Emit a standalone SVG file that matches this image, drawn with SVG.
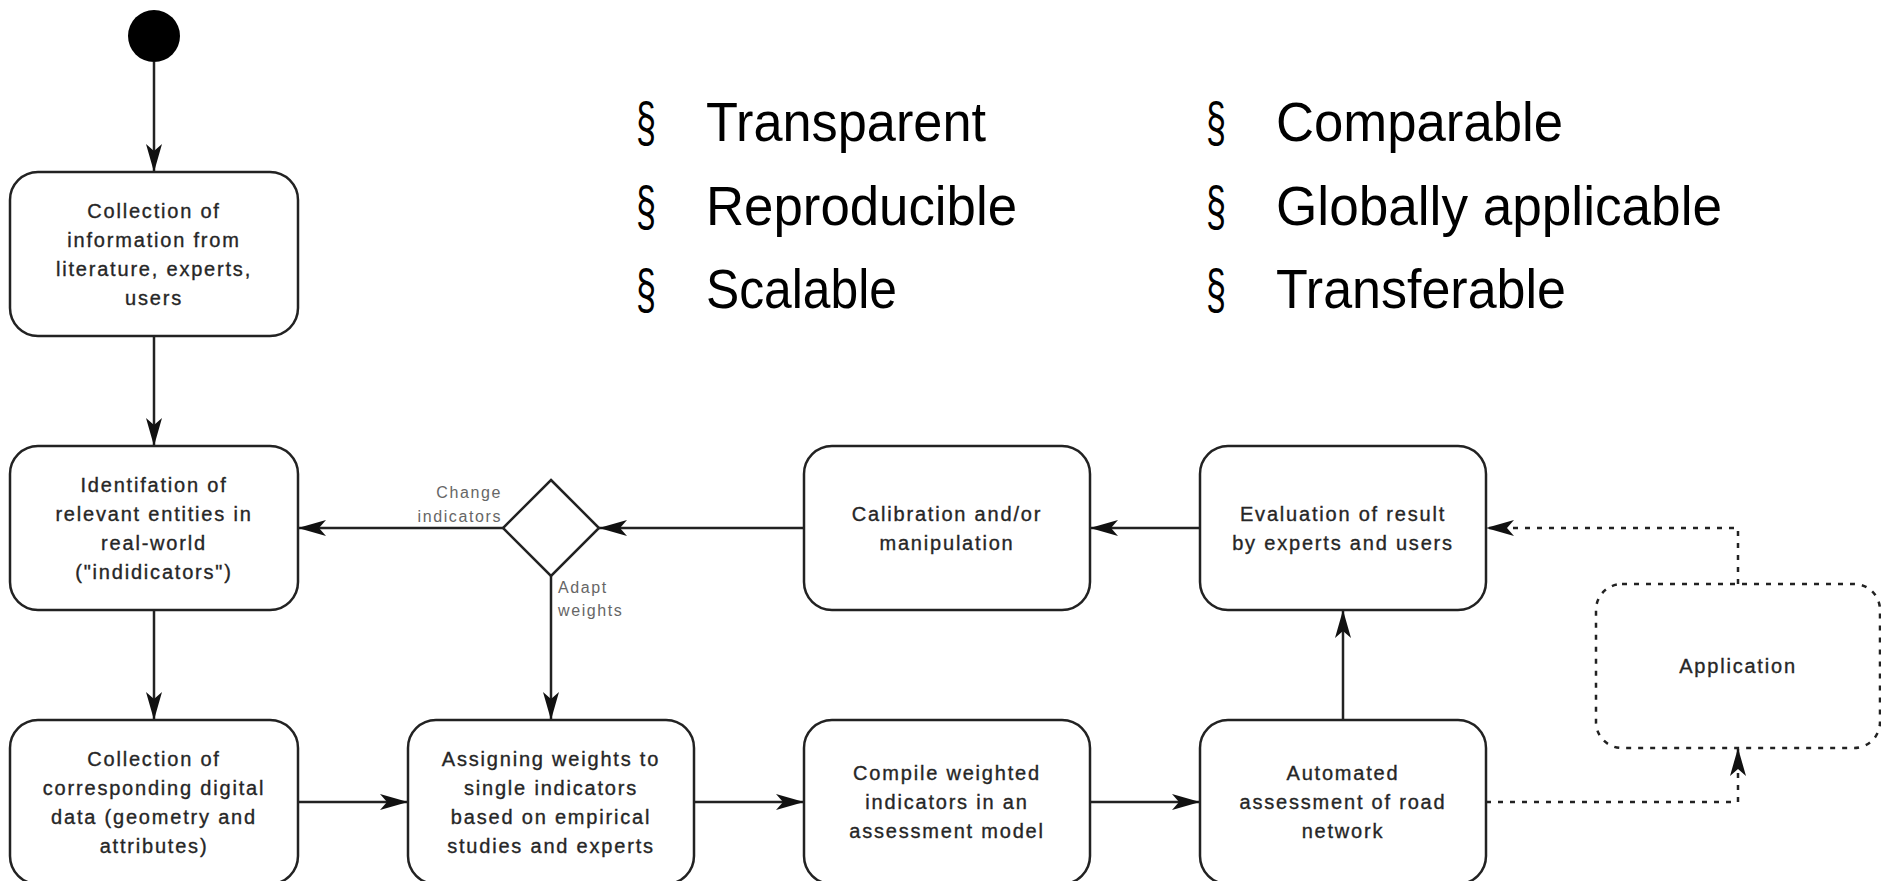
<svg xmlns="http://www.w3.org/2000/svg" width="1881" height="881" viewBox="0 0 1881 881">
  <style>
    .box { fill: #ffffff; stroke: #222222; stroke-width: 2.5; }
    .app { fill: #ffffff; stroke: #222222; stroke-width: 2.5; stroke-dasharray: 5 7; }
    .lbl { font-family: "Liberation Sans", Arial, sans-serif; font-size: 20px; letter-spacing: 1.8px; fill: #262626; stroke: #262626; stroke-width: 0.35px; text-anchor: middle; }
    .edge { fill: none; stroke: #222222; stroke-width: 2.5; marker-end: url(#arrow); }
    .dotted { fill: none; stroke: #222222; stroke-width: 2.5; stroke-dasharray: 5 7; marker-end: url(#arrow); }
    .guard { font-family: "Liberation Sans", Arial, sans-serif; font-size: 16px; letter-spacing: 1.6px; fill: #666666; }
    .bullet { font-family: "Liberation Sans", Arial, sans-serif; font-size: 56px; fill: #000000; }
  </style>
  <defs>
    <marker id="arrow" viewBox="0 0 28 16" refX="28" refY="8" markerWidth="28" markerHeight="16" markerUnits="userSpaceOnUse" orient="auto">
      <path d="M28,8 L0,0 L7,8 L0,16 Z" fill="#111111"/>
    </marker>
  </defs>

  <rect width="1881" height="881" fill="#ffffff"/>

  <!-- list of properties -->
  <g id="properties">
    <text class="bullet" x="636" y="141" textLength="20" lengthAdjust="spacingAndGlyphs">§</text>
    <text class="bullet" x="706" y="141" textLength="280" lengthAdjust="spacingAndGlyphs">Transparent</text>
    <text class="bullet" x="636" y="225" textLength="20" lengthAdjust="spacingAndGlyphs">§</text>
    <text class="bullet" x="706" y="225" textLength="311" lengthAdjust="spacingAndGlyphs">Reproducible</text>
    <text class="bullet" x="636" y="308" textLength="20" lengthAdjust="spacingAndGlyphs">§</text>
    <text class="bullet" x="706" y="308" textLength="191" lengthAdjust="spacingAndGlyphs">Scalable</text>
    <text class="bullet" x="1206" y="141" textLength="20" lengthAdjust="spacingAndGlyphs">§</text>
    <text class="bullet" x="1276" y="141" textLength="287" lengthAdjust="spacingAndGlyphs">Comparable</text>
    <text class="bullet" x="1206" y="225" textLength="20" lengthAdjust="spacingAndGlyphs">§</text>
    <text class="bullet" x="1276" y="225" textLength="446" lengthAdjust="spacingAndGlyphs">Globally applicable</text>
    <text class="bullet" x="1206" y="308" textLength="20" lengthAdjust="spacingAndGlyphs">§</text>
    <text class="bullet" x="1276" y="308" textLength="290" lengthAdjust="spacingAndGlyphs">Transferable</text>
  </g>

  <!-- connectors -->
  <g id="connectors">
    <path class="edge" d="M154,62 L154,172"/>
    <path class="edge" d="M154,336 L154,446"/>
    <path class="edge" d="M154,610 L154,720"/>
    <path class="edge" d="M298,802 L408,802"/>
    <path class="edge" d="M694,802 L804,802"/>
    <path class="edge" d="M1090,802 L1200,802"/>
    <path class="edge" d="M1343,720 L1343,610"/>
    <path class="edge" d="M1200,528 L1090,528"/>
    <path class="edge" d="M804,528 L599,528"/>
    <path class="edge" d="M503,528 L298,528"/>
    <path class="edge" d="M551,576 L551,720"/>
    <path class="dotted" d="M1486,802 L1738,802 L1738,748"/>
    <path class="dotted" d="M1738,584 L1738,528 L1486,528"/>
    <text class="guard" x="502" y="498" text-anchor="end">Change</text>
    <text class="guard" x="502" y="522" text-anchor="end">indicators</text>
    <text class="guard" x="558" y="593">Adapt</text>
    <text class="guard" x="558" y="616">weights</text>
  </g>

  <!-- nodes -->
  <g id="start">
    <circle cx="154" cy="36" r="26" fill="#000000"/>
  </g>

  <g id="collect-info">
    <rect class="box" x="10" y="172" width="288" height="164" rx="28"/>
    <text class="lbl" x="154" y="217.5">Collection of</text>
    <text class="lbl" x="154" y="246.5">information from</text>
    <text class="lbl" x="154" y="275.5">literature, experts,</text>
    <text class="lbl" x="154" y="304.5">users</text>
  </g>

  <g id="identify">
    <rect class="box" x="10" y="446" width="288" height="164" rx="28"/>
    <text class="lbl" x="154" y="491.5">Identifation of</text>
    <text class="lbl" x="154" y="520.5">relevant entities in</text>
    <text class="lbl" x="154" y="549.5">real-world</text>
    <text class="lbl" x="154" y="578.5">("indidicators")</text>
  </g>

  <g id="collect-data">
    <rect class="box" x="10" y="720" width="288" height="164" rx="28"/>
    <text class="lbl" x="154" y="765.5">Collection of</text>
    <text class="lbl" x="154" y="794.5">corresponding digital</text>
    <text class="lbl" x="154" y="823.5">data (geometry and</text>
    <text class="lbl" x="154" y="852.5">attributes)</text>
  </g>

  <g id="assign-weights">
    <rect class="box" x="408" y="720" width="286" height="164" rx="28"/>
    <text class="lbl" x="551" y="765.5">Assigning weights to</text>
    <text class="lbl" x="551" y="794.5">single indicators</text>
    <text class="lbl" x="551" y="823.5">based on empirical</text>
    <text class="lbl" x="551" y="852.5">studies and experts</text>
  </g>

  <g id="compile">
    <rect class="box" x="804" y="720" width="286" height="164" rx="28"/>
    <text class="lbl" x="947" y="780">Compile weighted</text>
    <text class="lbl" x="947" y="809">indicators in an</text>
    <text class="lbl" x="947" y="838">assessment model</text>
  </g>

  <g id="automated">
    <rect class="box" x="1200" y="720" width="286" height="164" rx="28"/>
    <text class="lbl" x="1343" y="780">Automated</text>
    <text class="lbl" x="1343" y="809">assessment of road</text>
    <text class="lbl" x="1343" y="838">network</text>
  </g>

  <g id="evaluation">
    <rect class="box" x="1200" y="446" width="286" height="164" rx="28"/>
    <text class="lbl" x="1343" y="520.5">Evaluation of result</text>
    <text class="lbl" x="1343" y="549.5">by experts and users</text>
  </g>

  <g id="calibration">
    <rect class="box" x="804" y="446" width="286" height="164" rx="28"/>
    <text class="lbl" x="947" y="520.5">Calibration and/or</text>
    <text class="lbl" x="947" y="549.5">manipulation</text>
  </g>

  <g id="decision">
    <polygon class="box" points="551,480 599,528 551,576 503,528"/>
  </g>

  <g id="application">
    <rect class="app" x="1596" y="584" width="284" height="164" rx="26"/>
    <text class="lbl" x="1738" y="673">Application</text>
  </g>
</svg>
